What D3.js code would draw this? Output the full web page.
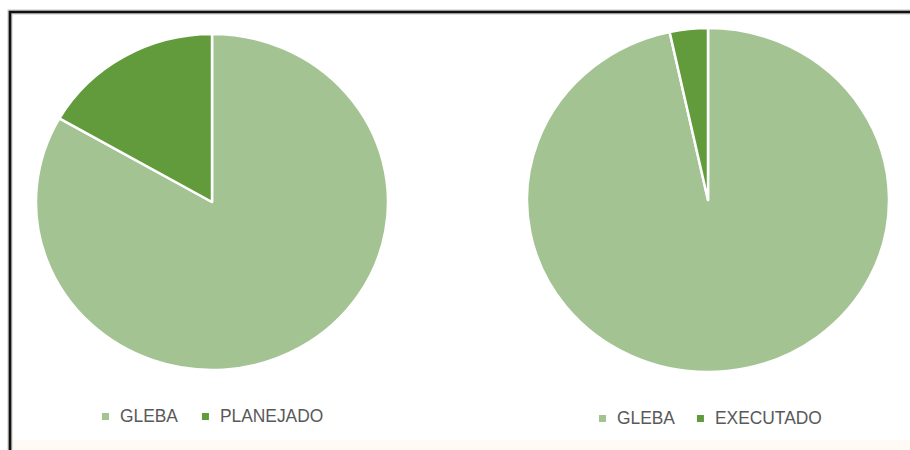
<!DOCTYPE html>
<html>
<head>
<meta charset="utf-8">
<script src="https://cdn.jsdelivr.net/npm/d3@7"></script>
<style>
  body { margin: 0; background: #ffffff; }
  svg { display: block; }
</style>
</head>
<body>
<svg id="dataviz_area" width="910" height="450"></svg>
<script>
// data (percent of the area)
var categoriesLeft = ["GLEBA", "PLANEJADO"]
var valuesLeft = [83.3, 16.7]
var categoriesRight = ["GLEBA", "EXECUTADO"]
var valuesRight = [96.6, 3.4]
var colors = ["#a3c393", "#629b3c"]

var svg = d3.select("#dataviz_area")
width = 910
height = 450

// cream strip at the bottom and the black frame (top + left only, rest is cut off)
svg.append("rect")
    .attr("x", 11).attr("y", 440)
    .attr("width", width - 11).attr("height", 10)
    .attr("fill", "#fffaf5")

svg.append("path")
    .attr("d", "M10," + height + "V12H" + width)
    .attr("fill", "none")
    .attr("stroke", "#c8c8c8")
    .attr("stroke-width", 5)
svg.append("path")
    .attr("d", "M10," + height + "V12H" + width)
    .attr("fill", "none")
    .attr("stroke", "#111")
    .attr("stroke-width", 2.6)

// one pie chart + its legend
// the screenshot is a bit stretched horizontally, so the pie gets an x scale
function drawPie(cats, vals, cx, cy, rx, ry, legendX, legendY, gap) {
    var color = d3.scaleOrdinal().domain(cats).range(colors)

    var pie = d3.pie().sort(null).value(function(d){ return d.v })
    var arc = d3.arc().innerRadius(0).outerRadius(ry)
    var data = cats.map(function(c, i){ return {k: c, v: vals[i]} })

    var g = svg.append("g")
        .attr("transform", "translate(" + cx + "," + cy + ") scale(" + (rx / ry) + ",1)")

    g.selectAll("path")
        .data(pie(data))
        .enter()
        .append("path")
            .attr("d", arc)
            .attr("fill", function(d){ return color(d.data.k) })
            .attr("stroke", "#ffffff")
            .attr("stroke-width", 2.5)
            .attr("stroke-linejoin", "round")
            .attr("vector-effect", "non-scaling-stroke")

    // legend: small square + label, side by side
    // labels are a narrow font in the original, so squeeze them a little
    var squeeze = 0.94
    var lg = svg.append("g").attr("transform", "translate(" + legendX + "," + legendY + ")")
    var x = 0
    cats.forEach(function(c) {
        lg.append("rect")
            .attr("x", x).attr("y", -9)
            .attr("width", 7).attr("height", 7)
            .attr("fill", color(c))
        var t = lg.append("text")
            .attr("transform", "translate(" + (x + 18) + ",0) scale(" + squeeze + ",1)")
            .attr("font-family", "'Liberation Sans', Arial, sans-serif")
            .attr("font-size", 18.5)
            .attr("fill", "#595959")
            .text(c)
        x += 18 + t.node().getComputedTextLength() * squeeze + gap
    })
}

drawPie(categoriesLeft, valuesLeft, 212, 202, 176, 168, 102, 422, 24)
drawPie(categoriesRight, valuesRight, 708, 200, 181, 172, 599, 424, 22)
</script>
</body>
</html>
